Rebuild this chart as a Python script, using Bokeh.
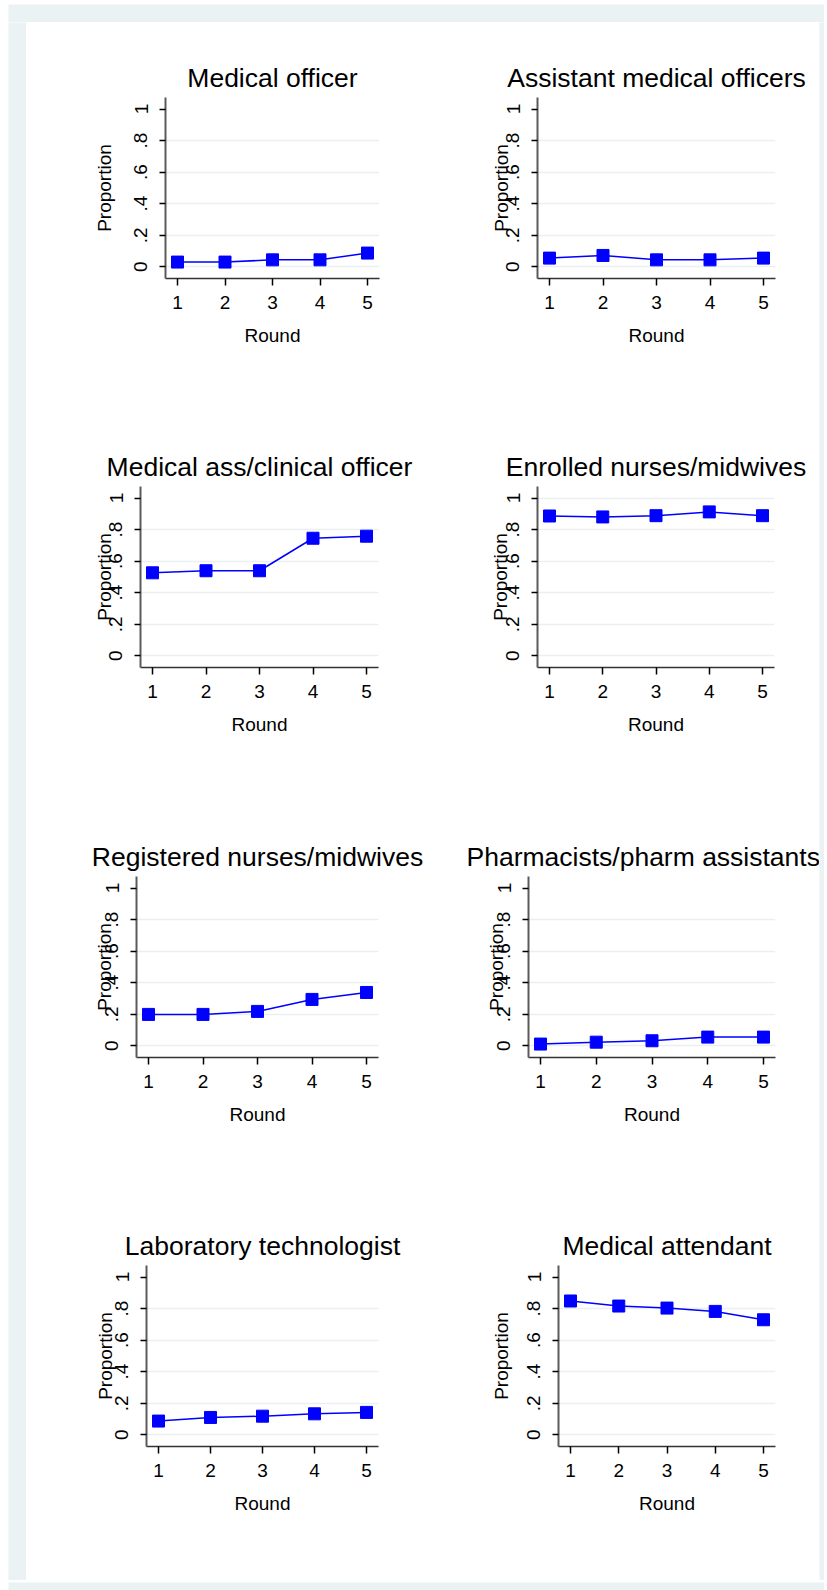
from bokeh.plotting import figure
from bokeh.layouts import column, row, Spacer
from bokeh.models import FixedTicker, Range1d
from bokeh.embed import file_html
from bokeh.resources import INLINE

# ---------------- data ----------------
rounds = [1, 2, 3, 4, 5]
titles = [
    "Medical officer", "Assistant medical officers",
    "Medical ass/clinical officer", "Enrolled nurses/midwives",
    "Registered nurses/midwives", "Pharmacists/pharm assistants",
    "Laboratory technologist", "Medical attendant",
]
medical_officer = [0.030, 0.030, 0.044, 0.044, 0.087]
assistant_medical_officers = [0.055, 0.072, 0.044, 0.044, 0.055]
medical_ass_clinical_officer = [0.526, 0.539, 0.539, 0.745, 0.758]
enrolled_nurses_midwives = [0.886, 0.880, 0.888, 0.912, 0.888]
registered_nurses_midwives = [0.199, 0.199, 0.218, 0.294, 0.338]
pharmacists_pharm_assistants = [0.011, 0.023, 0.032, 0.055, 0.055]
laboratory_technologist = [0.087, 0.110, 0.118, 0.133, 0.142]
medical_attendant = [0.848, 0.816, 0.803, 0.782, 0.729]
series = [medical_officer, assistant_medical_officers,
          medical_ass_clinical_officer, enrolled_nurses_midwives,
          registered_nurses_midwives, pharmacists_pharm_assistants,
          laboratory_technologist, medical_attendant]

y_ticks = [0, 0.2, 0.4, 0.6, 0.8, 1]
y_tick_labels = ["0", ".2", ".4", ".6", ".8", "1"]
x_tick_labels = ["1", "2", "3", "4", "5"]
x_label = "Round"
y_label = "Proportion"

# ---------------- layout (pixels) ----------------
col_w = [400, 393]
row_h = [390, 389, 390, 389]
top_border = [75, 74, 75, 74]
FRAME_H = 181
# (left border, frame width) per panel
panel_geo = [(139, 214), (111, 238), (114, 238), (111, 237),
             (110, 242), (102, 247), (120, 232), (132, 217)]
# distance of "Proportion" centre from the y axis
ylab_dist = [65, 40, 40, 40.6, 36, 36.3, 45, 61]
# title placement: (align, offset)
title_place = [("center", 0), ("center", 0), ("center", 0), ("center", 0),
               ("center", 0), ("left", -62), ("center", 0), ("center", 0)]
grid_top = [False, False, False, True, False, False, False, False]

FONT = "Liberation Sans"
BLUE = "#0000FF"
GRID = "#EAF0F2"
BG = "#EAF2F3"
PAD = 12.0  # px padding inside frame


def panel(i):
    r, c = divmod(i, 2)
    bl, fw = panel_geo[i]
    W, H = col_w[c], row_h[r]
    bt = top_border[r]
    unit_x = (fw - 2 * PAD) / 4.0
    x0 = 1 - PAD / unit_x
    x1 = 5 + PAD / unit_x
    unit_y = FRAME_H - 23.2
    y0 = -11.7 / unit_y
    y1 = 1 + 11.5 / unit_y
    p = figure(width=W, height=H, output_backend="svg", toolbar_location=None,
               x_range=Range1d(x0, x1), y_range=Range1d(y0, y1),
               min_border_left=bl, min_border_right=W - bl - fw,
               min_border_top=bt, min_border_bottom=H - bt - FRAME_H,
               title=titles[i])
    p.background_fill_color = "white"
    p.border_fill_color = "white"
    p.outline_line_color = None
    p.title.text_font = FONT
    p.title.text_font_size = "26.5px"
    p.title.text_font_style = "normal"
    p.title.text_color = "black"
    p.title.align = title_place[i][0]
    p.title.offset = title_place[i][1]
    p.title.standoff = 9

    # grid
    p.xgrid.visible = False
    gt = y_ticks[:-1] + ([1] if grid_top[i] else [])
    p.ygrid.ticker = FixedTicker(ticks=gt)
    p.ygrid.grid_line_color = GRID
    p.ygrid.grid_line_width = 1.5

    # x axis
    xa = p.xaxis[0]
    xa.ticker = FixedTicker(ticks=rounds)
    xa.major_label_overrides = {k: v for k, v in zip(rounds, x_tick_labels)}
    xa.minor_tick_line_color = None
    xa.major_tick_out = 7
    xa.major_tick_in = 0
    xa.major_tick_line_color = "black"
    xa.major_tick_line_width = 1.5
    xa.axis_line_color = "#333333"
    xa.axis_line_width = 1.5
    xa.major_label_text_font = FONT
    xa.major_label_text_font_size = "19px"
    xa.major_label_text_color = "black"
    xa.major_label_standoff = 10
    xa.axis_label = x_label
    xa.axis_label_text_font = FONT
    xa.axis_label_text_font_size = "19px"
    xa.axis_label_text_font_style = "normal"
    xa.axis_label_text_color = "black"
    xa.axis_label_standoff = 13

    # y axis
    ya = p.yaxis[0]
    ya.ticker = FixedTicker(ticks=y_ticks)
    ya.major_label_overrides = {k: v for k, v in zip(y_ticks, y_tick_labels)}
    ya.major_label_orientation = "vertical"
    ya.minor_tick_line_color = None
    ya.major_tick_out = 6
    ya.major_tick_in = 0
    ya.major_tick_line_color = "black"
    ya.major_tick_line_width = 1.5
    ya.axis_line_color = "#5a5a5a"
    ya.axis_line_width = 2
    ya.major_label_text_font = FONT
    ya.major_label_text_font_size = "19px"
    ya.major_label_text_color = "black"
    ya.major_label_standoff = 12
    ya.axis_label = y_label
    ya.axis_label_text_font = FONT
    ya.axis_label_text_font_size = "19px"
    ya.axis_label_text_font_style = "normal"
    ya.axis_label_text_color = "black"
    ya.axis_label_standoff = int(round(ylab_dist[i] - 48))

    p.line(rounds, series[i], line_color=BLUE, line_width=1.5)
    p.scatter(rounds, series[i], marker="square", size=12,
              fill_color=BLUE, line_color=BLUE)
    return p


def strip(w, h, color):
    s = figure(width=w, height=h, output_backend="svg", toolbar_location=None,
               x_axis_type=None, y_axis_type=None, min_border=0)
    s.background_fill_color = color
    s.border_fill_color = color
    s.outline_line_color = None
    s.xgrid.visible = False
    s.ygrid.visible = False
    return s


panels = [panel(i) for i in range(8)]
grid_rows = [row(panels[2 * k], panels[2 * k + 1]) for k in range(4)]
panel_block = column(*grid_rows)
total_w = sum(col_w)
total_h = sum(row_h)
middle = row(strip(18, total_h, BG), panel_block, strip(5, total_h, BG))
framed = column(strip(18 + total_w + 5, 18, BG), middle,
                strip(18 + total_w + 5, 10, BG))
page = column(Spacer(height=4), row(Spacer(width=8), framed))

open("out.html", "w").write(file_html(page, INLINE))
